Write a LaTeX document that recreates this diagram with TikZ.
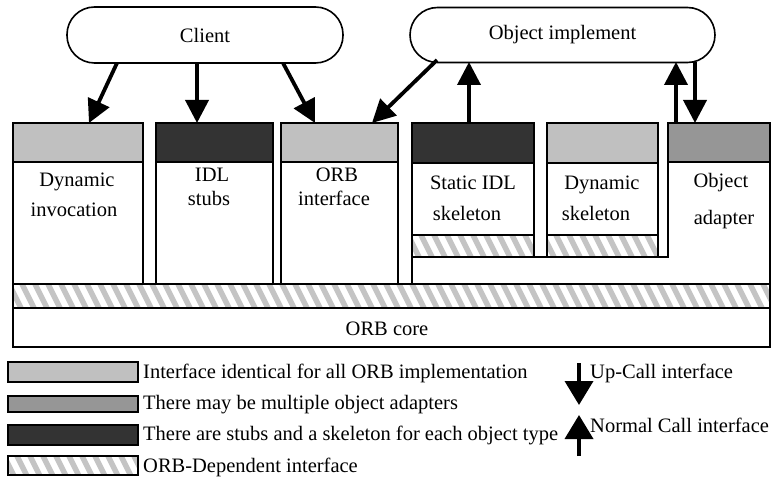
\documentclass[tikz,border=0pt]{standalone}
\usepackage{fontspec}
\setmainfont{Liberation Serif}
\usetikzlibrary{arrows.meta}
\definecolor{lg}{HTML}{C0C0C0}
\definecolor{mg}{HTML}{969696}
\definecolor{dg}{HTML}{333333}
\definecolor{hg}{HTML}{C4C4C4}
\newcommand\hatchrect[4]{%
  \begin{scope}
    \clip (#1,#2) rectangle (#3,#4);
    \fill[white] (#1,#2) rectangle (#3,#4);
    \foreach \k in {0,...,64} {
      \draw[hline] (#1-30+13*\k,#2) -- ++(0.5*#4-0.5*#2,#4-#2);
    }
  \end{scope}}
\tikzset{
  bl/.style={line width=1.6pt},
  arr/.style={line width=3.8pt, -{Triangle[length=23pt,width=23pt]}},
  larr/.style={line width=3.8pt, -{Triangle[length=24pt,width=28pt]}},
  lbl/.style={font=\fontsize{20.5pt}{24pt}\selectfont, inner sep=0pt, anchor=base},
  leg/.style={font=\fontsize{20.5pt}{24pt}\selectfont, inner sep=0pt, anchor=base west},
  pill/.style={draw, line width=1.6pt, rounded corners=27.5pt, inner sep=0pt, fill=white,
    font=\fontsize{20.5pt}{24pt}\selectfont},
  hline/.style={draw=hg, line width=5.5pt}
}
\begin{document}
\begin{tikzpicture}[x=1pt,y=-1pt]
\useasboundingbox (0,0) rectangle (783,478);
% hatched areas
\hatchrect{13}{284}{770}{308}
\hatchrect{412}{235}{534}{257}
\hatchrect{547}{235}{658}{257}
\hatchrect{8}{456}{138}{475}
% client-side boxes
\draw[bl,fill=lg] (13,123) rectangle (143,162);
\draw[bl] (13,162) rectangle (143,284);
\draw[bl,fill=dg] (156,123) rectangle (273,162);
\draw[bl] (156,162) rectangle (273,284);
\draw[bl,fill=lg] (281,123) rectangle (398,162);
\draw[bl] (281,162) rectangle (398,284);
% server-side boxes
\draw[bl,fill=dg] (412,123) rectangle (534,163);
\draw[bl] (412,163) rectangle (534,257);
\draw[bl] (412,235) -- (534,235);
\draw[bl,fill=lg] (547,123) rectangle (658,163);
\draw[bl] (547,163) rectangle (658,257);
\draw[bl] (547,235) -- (658,235);
\draw[bl,fill=mg] (668,123) rectangle (770,162);
\draw[bl] (668,162) -- (668,257) -- (412,257) -- (412,284);
\draw[bl] (770,162) -- (770,284);
% ORB layers
\draw[bl] (13,284) rectangle (770,308);
\draw[bl] (13,308) rectangle (770,347);
% top nodes
\node[pill, minimum width=276pt, minimum height=56pt] (client) at (205,35) {Client};
\node[pill, minimum width=305pt, minimum height=55pt] (impl) at (562.5,35) {Object implement};
% texts
\node[lbl] (t1a) at (77,187) {Dynamic};
\node[lbl] (t1b) at (74,216) {invocation};
\node[lbl] (t2a) at (212,182) {IDL};
\node[lbl] (t2b) at (209,205) {stubs};
\node[lbl] (t3a) at (337,182) {ORB};
\node[lbl] (t3b) at (334,205) {interface};
\node[lbl] (t4a) at (473,190) {Static IDL};
\node[lbl] (t4b) at (467,221) {skeleton};
\node[lbl] (t5a) at (602,190) {Dynamic};
\node[lbl] (t5b) at (596,221) {skeleton};
\node[lbl] (t6a) at (721,188) {Object};
\node[lbl] (t6b) at (724,225) {adapter};
\node[lbl] (core) at (387,335) {ORB core};
% arrow end points
\coordinate (c1) at (117,63);  \coordinate (e1) at (89,123);
\coordinate (c2) at (197,63);  \coordinate (e2) at (197,123);
\coordinate (c3) at (283,63);  \coordinate (e3) at (315,123);
\coordinate (o4) at (437,60);  \coordinate (e4) at (372,123);
\coordinate (s5) at (469,123); \coordinate (o5) at (469,62);
\coordinate (s6) at (676,123); \coordinate (o6) at (676,62);
\coordinate (o7) at (695,62);  \coordinate (e7) at (695,123);
\draw[arr] (c1) -- (e1);
\draw[arr] (c2) -- (e2);
\draw[arr] (c3) -- (e3);
\draw[arr] (o4) -- (e4);
\draw[arr] (s5) -- (o5);
\draw[arr] (s6) -- (o6);
\draw[arr] (o7) -- (e7);
% legend
\draw[bl,fill=lg] (8,362) rectangle (138,382);
\draw[bl,fill=mg] (8,396) rectangle (138,412);
\draw[bl,fill=dg] (8,425) rectangle (138,445);
\draw[bl] (8,456) rectangle (138,475);
\node[leg] (l1) at (143,378) {Interface identical for all ORB implementation};
\node[leg] (l2) at (143,409) {There may be multiple object adapters};
\node[leg] (l3) at (143,440) {There are stubs and a skeleton for each object type};
\node[leg] (l4) at (143,472) {ORB-Dependent interface};
\coordinate (d1) at (579,363); \coordinate (d2) at (579,405);
\coordinate (u1) at (579,456); \coordinate (u2) at (579,415);
\draw[larr] (d1) -- (d2);
\draw[larr] (u1) -- (u2);
\node[leg] (l5) at (590,378) {Up-Call interface};
\node[leg] (l6) at (590,432) {Normal Call interface};
\end{tikzpicture}
\end{document}
